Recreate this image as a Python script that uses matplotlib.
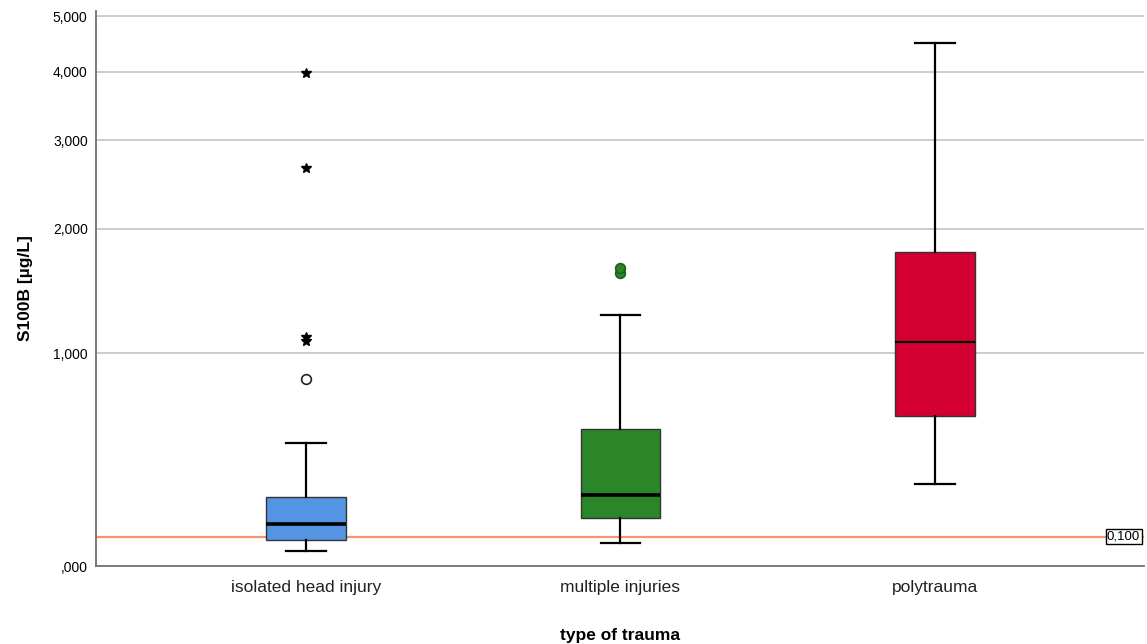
import numpy as np
import matplotlib
matplotlib.use('Agg')
import matplotlib.pyplot as plt

plt.rcParams['font.family'] = ['Liberation Sans', 'DejaVu Sans']

# S100B per trauma group (µg/L)
groups = ['isolated head injury', 'multiple injuries', 'polytrauma']
whisker_low = [0.050, 0.078, 0.306]
q1 = [0.088, 0.169, 0.629]
median = [0.146, 0.260, 1.073]
q3 = [0.252, 0.562, 1.780]
whisker_high = [0.492, 1.262, 4.490]
outliers = [[0.838], [1.600, 1.637], []]
extremes = [[1.080, 1.107, 2.660, 3.980], [], []]
colors = ['#5495E3', '#2A8629', '#D50032']
median_widths = [2.6, 2.6, 1.6]
reference = 0.100
y_ticks = [0.0, 1.0, 2.0, 3.0, 4.0, 5.0]


def fmt(v, lead=False):
    s = f'{v:,.3f}'.replace('.', ',')
    if not lead and s.startswith('0,'):
        s = s[1:]
    return s


fig = plt.figure(figsize=(11.47, 6.44), dpi=100)
ax = fig.add_axes([0.0837, 0.1211, 0.9137, 0.8619])
ax.set_yscale('function', functions=(np.log1p, np.expm1))

positions = [1, 2, 3]
for i, pos in enumerate(positions):
    stats = [dict(med=median[i], q1=q1[i], q3=q3[i],
                  whislo=whisker_low[i], whishi=whisker_high[i],
                  fliers=outliers[i])]
    face = 'white' if i == 0 else colors[i]
    ax.bxp(stats, positions=[pos], widths=0.254, capwidths=0.127,
           patch_artist=True, manage_ticks=False,
           boxprops=dict(facecolor=colors[i], edgecolor='#333333', linewidth=1.0),
           medianprops=dict(color='black', linewidth=median_widths[i]),
           whiskerprops=dict(color='black', linewidth=1.6),
           capprops=dict(color='black', linewidth=1.6),
           flierprops=dict(marker='o', markersize=7, markerfacecolor=face,
                           markeredgecolor='#222222' if i == 0 else '#1d5e1c',
                           markeredgewidth=1.2),
           zorder=3)
    if extremes[i]:
        ax.plot([pos] * len(extremes[i]), extremes[i], linestyle='none',
                marker='*', markersize=7, color='black', zorder=4)

ax.axhline(reference, color='#F4956B', linewidth=1.6, zorder=2)
ax.text(3.653, reference, fmt(reference, lead=True), ha='right', va='center',
        fontsize=9.5,
        bbox=dict(boxstyle='square,pad=0.1', facecolor='white',
                  edgecolor='black', linewidth=1.0), zorder=5)

ax.set_xlim(0.332, 3.665)
ax.set_ylim(0, 5.1)
ax.set_yticks(y_ticks)
ax.set_yticklabels([fmt(v) for v in y_ticks], fontsize=10)
ax.set_xticks(positions)
ax.set_xticklabels(groups, fontsize=12.5, color='#222222')
ax.tick_params(length=0, pad=6)
ax.tick_params(axis='x', pad=10)

for v in y_ticks[1:]:
    ax.axhline(v, color='#c8c8c8', linewidth=1.3, zorder=1)

for side in ['top', 'right']:
    ax.spines[side].set_visible(False)
for side in ['left', 'bottom']:
    ax.spines[side].set_color('#707070')
    ax.spines[side].set_linewidth(1.3)

ax.set_ylabel('S100B [µg/L]', fontsize=12.5, fontweight='bold', labelpad=14)
ax.set_xlabel('type of trauma', fontsize=12.5, fontweight='bold', labelpad=24)

fig.savefig('out.png', dpi=100)
